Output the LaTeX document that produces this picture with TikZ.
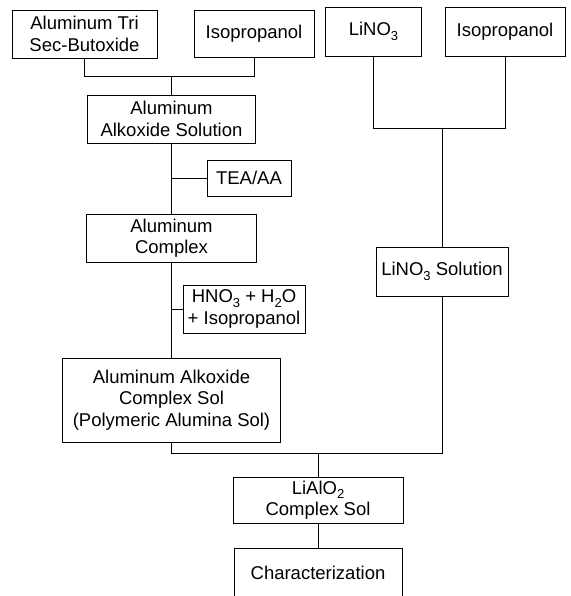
\documentclass[tikz,border=0pt]{standalone}
\usepackage{fontspec}
\setmainfont{Liberation Sans}
\newcommand{\mysub}[1]{\raisebox{-0.45ex}{\fontsize{13}{13}\selectfont #1}}
\begin{document}
\begin{tikzpicture}[x=1pt,y=-1pt,
  bx/.style={draw, line width=0.9pt, align=center, inner sep=0pt,
             font=\fontsize{18.5}{21.5}\selectfont},
  ln/.style={line width=0.9pt}]
\useasboundingbox (0,0) rectangle (570,596);
% top row
\node[bx, minimum width=145pt, minimum height=48pt] (A) at (84.5,34) {Aluminum Tri\\Sec-Butoxide};
\node[bx, minimum width=120pt, minimum height=47pt] (B) at (254,33.5) {Isopropanol};
\node[bx, minimum width=96pt, minimum height=49pt] (C) at (373.5,31.5) {LiNO\mysub{3}};
\node[bx, minimum width=120pt, minimum height=49pt] (D) at (505,31.5) {Isopropanol};
% left column
\node[bx, minimum width=168pt, minimum height=48pt] (E) at (171.5,119) {Aluminum\\Alkoxide Solution};
\node[bx, minimum width=84pt, minimum height=36pt] (F) at (249,178) {TEA/AA};
\node[bx, minimum width=170pt, minimum height=48pt] (G) at (171.5,238) {Aluminum\\Complex};
\node[bx, minimum width=122pt, minimum height=48pt] (H) at (244,309) {HNO\mysub{3} + H\mysub{2}O\\+ Isopropanol};
\node[bx, minimum width=218pt, minimum height=84pt] (I) at (171.5,400) {Aluminum Alkoxide\\Complex Sol\\(Polymeric Alumina Sol)};
% right column
\node[bx, minimum width=132pt, minimum height=49pt] (J) at (442,271.5) {LiNO\mysub{3} Solution};
% bottom
\node[bx, minimum width=170pt, minimum height=46pt] (K) at (318,500) {LiAlO\mysub{2}\\Complex Sol};
\node[bx, minimum width=168pt, minimum height=50pt] (L) at (318,573) {Characterization};
% junction points
\coordinate (j1) at (171.5,76);
\coordinate (j2) at (442,128);
\coordinate (j3) at (318,453);
\coordinate (jF) at (171.5,178);
\coordinate (jH) at (171.5,309);
% connectors
\draw[ln] (A.south) -- (A.south |- j1) -| (B.south);
\draw[ln] (j1) -- (E.north);
\draw[ln] (C.south) -- (C.south |- j2) -| (D.south);
\draw[ln] (j2) -- (J.north);
\draw[ln] (E.south) -- (G.north);
\draw[ln] (jF) -- (F.west);
\draw[ln] (G.south) -- (I.north);
\draw[ln] (jH) -- (H.west);
\draw[ln] (I.south) -- (I.south |- j3) -| (J.south);
\draw[ln] (j3) -- (K.north);
\draw[ln] (K.south) -- (L.north);
\end{tikzpicture}
\end{document}
